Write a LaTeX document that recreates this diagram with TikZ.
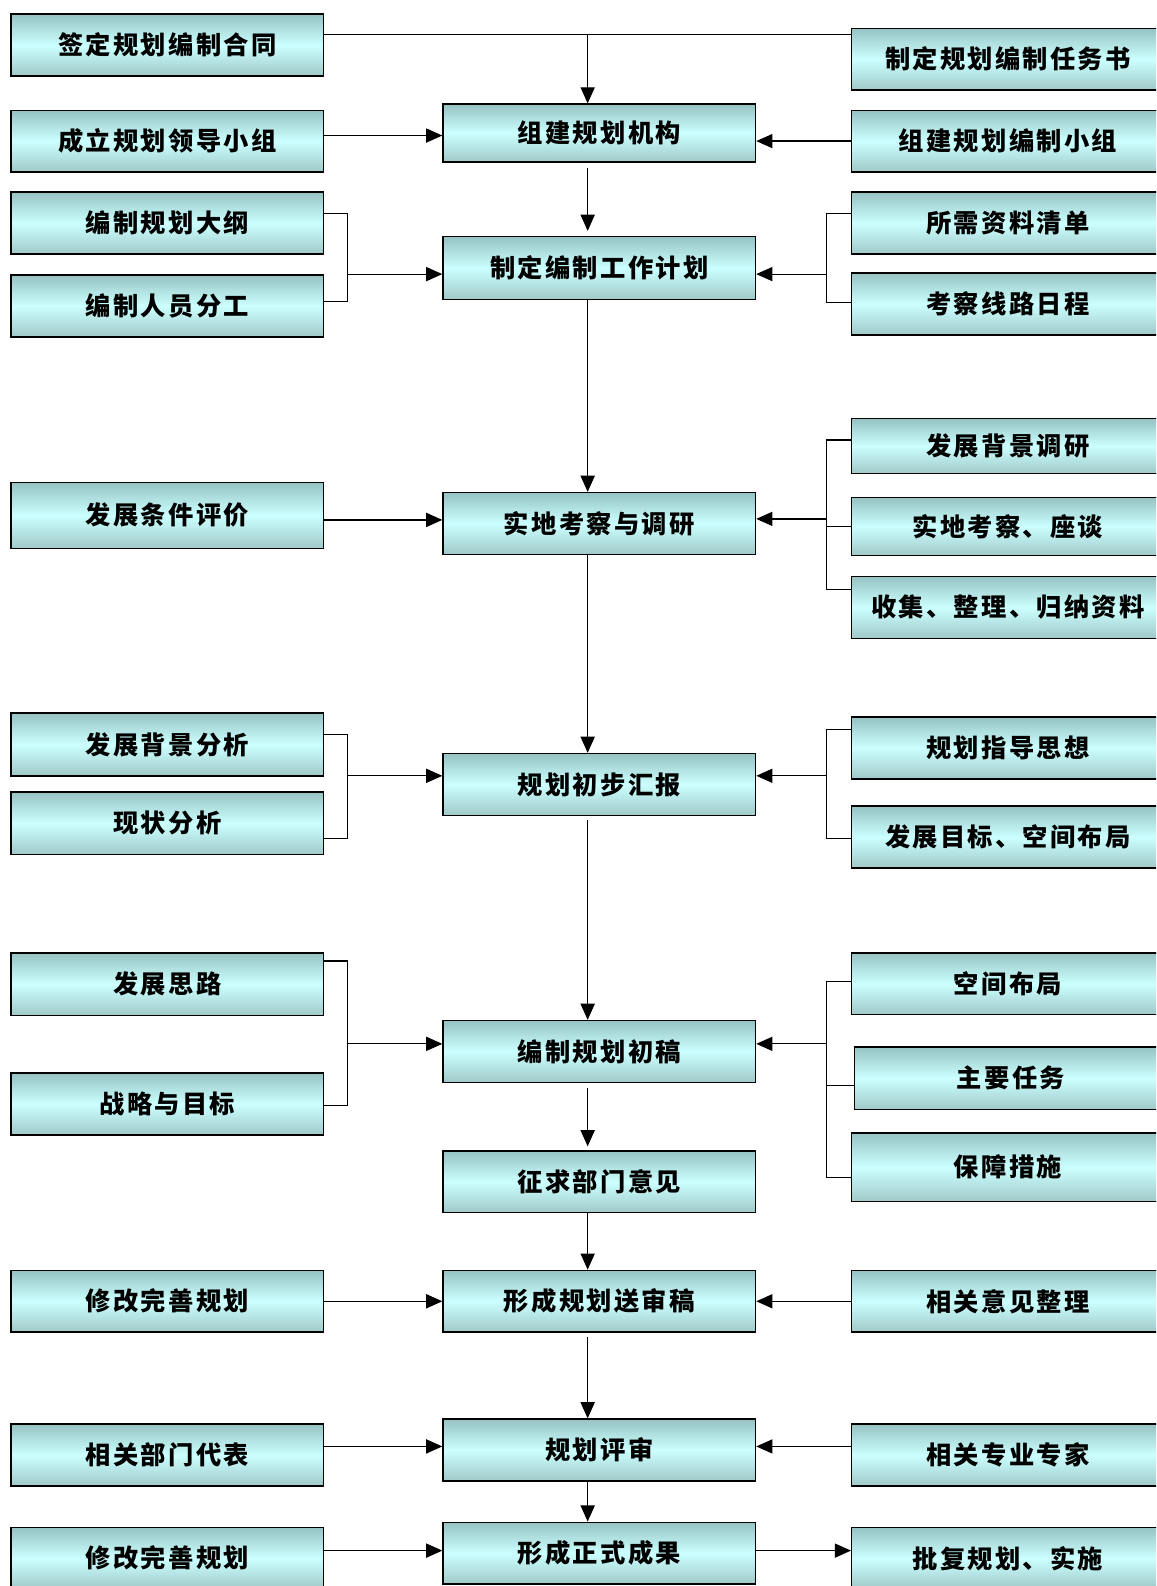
\documentclass[tikz,border=0pt]{standalone}
\usepackage{fontspec}
\newfontfamily\cjk{Noto Sans CJK SC}[LetterSpace=9]
\usetikzlibrary{arrows.meta}
\definecolor{boxedge}{RGB}{150,195,195}
\definecolor{boxmid}{RGB}{204,255,255}
\tikzset{
  box/.style={draw=black,line width=1.4pt,minimum width=309pt,minimum height=61pt,
    inner sep=0pt,top color=boxedge,bottom color=boxedge!90!white,middle color=boxmid,
    font=\cjk\bfseries\fontsize{25}{25}\selectfont},
  link/.style={draw=black,line width=1.2pt},
  arr/.style={link,-{Triangle[length=16pt,width=14pt]}}
}
\begin{document}
\begin{tikzpicture}[x=1pt,y=-1pt]
  \clip (0,0) rectangle (1143,1568);
  \fill[white] (0,0) rectangle (1143,1568);
  % left column
  \node[box] (L1) at (165.5,44.5) {签定规划编制合同};
  \node[box] (L2) at (165.5,139.5) {成立规划领导小组};
  \node[box] (L3) at (165.5,220.5) {编制规划大纲};
  \node[box] (L4) at (165.5,302.5) {编制人员分工};
  \node[box,minimum height=65pt] (L5) at (165.5,509.5) {发展条件评价};
  \node[box,minimum height=62pt] (L6) at (165.5,736) {发展背景分析};
  \node[box,minimum height=62pt] (L7) at (165.5,814) {现状分析};
  \node[box,minimum height=62pt] (L8) at (165.5,973) {发展思路};
  \node[box] (L9) at (165.5,1091.5) {战略与目标};
  \node[box] (L10) at (165.5,1286.5) {修改完善规划};
  \node[box] (L11) at (165.5,1438.5) {相关部门代表};
  \node[box] (L12) at (165.5,1540.5) {修改完善规划};
  % centre column
  \node[box,minimum height=57pt] (C1) at (592.5,131.5) {组建规划机构};
  \node[box,minimum height=62pt] (C2) at (592.5,265) {制定编制工作计划};
  \node[box] (C3) at (592.5,517.5) {实地考察与调研};
  \node[box] (C4) at (592.5,775.5) {规划初步汇报};
  \node[box] (C5) at (592.5,1039.5) {编制规划初稿};
  \node[box] (C6) at (592.5,1168.5) {征求部门意见};
  \node[box] (C7) at (592.5,1286.5) {形成规划送审稿};
  \node[box] (C8) at (592.5,1433.5) {规划评审};
  \node[box] (C9) at (592.5,1535.5) {形成正式成果};
  % right column
  \node[box] (R1) at (996.5,58.5) {制定规划编制任务书};
  \node[box] (R2) at (996.5,139.5) {组建规划编制小组};
  \node[box] (R3) at (996.5,220.5) {所需资料清单};
  \node[box] (R4) at (996.5,300.5) {考察线路日程};
  \node[box,minimum height=54pt] (R5) at (996.5,441) {发展背景调研};
  \node[box,minimum height=57pt] (R6) at (996.5,520.5) {实地考察、座谈};
  \node[box] (R7) at (996.5,600.5) {收集、整理、归纳资料};
  \node[box] (R8) at (996.5,739.5) {规划指导思想};
  \node[box] (R9) at (996.5,827.5) {发展目标、空间布局};
  \node[box] (R10) at (996.5,972.5) {空间布局};
  \node[box,minimum height=62pt] (R11) at (999.5,1066) {主要任务};
  \node[box,minimum height=68pt] (R12) at (996.5,1154) {保障措施};
  \node[box] (R13) at (996.5,1286.5) {相关意见整理};
  \node[box] (R14) at (996.5,1438.5) {相关专业专家};
  \node[box] (R15) at (996.5,1540.5) {批复规划、实施};
  % main line
  \coordinate (t0) at ([yshift=10.5pt]L1.east);
  \coordinate (s1) at ([xshift=-11.5pt]C1.north);
  \draw[link] (t0) -- (t0 -| R1.west);
  \draw[arr] (t0 -| s1) -- (s1);
  \draw[arr,shorten <=5pt,shorten >=5pt] ([xshift=-11.5pt]C1.south) -- ([xshift=-11.5pt]C2.north);
  \draw[arr] ([xshift=-11.5pt]C2.south) -- ([xshift=-11.5pt]C3.north);
  \draw[arr] ([xshift=-11.5pt]C3.south) -- ([xshift=-11.5pt]C4.north);
  \draw[arr,shorten <=4pt] ([xshift=-11.5pt]C4.south) -- ([xshift=-11.5pt]C5.north);
  \draw[arr,shorten <=5pt,shorten >=4pt] ([xshift=-11.5pt]C5.south) -- ([xshift=-11.5pt]C6.north);
  \draw[arr] ([xshift=-11.5pt]C6.south) -- ([xshift=-11.5pt]C7.north);
  \draw[arr,shorten <=4pt] ([xshift=-11.5pt]C7.south) -- ([xshift=-11.5pt]C8.north);
  \draw[arr] ([xshift=-11.5pt]C8.south) -- ([xshift=-11.5pt]C9.north);
  % row 2
  \coordinate (a2) at ([yshift=5.5pt]L2.east);
  \draw[arr] (a2) -- (a2 -| C1.west);
  \draw[arr] (R2.west) -- (R2.west -| C1.east);
  % row 3
  \draw[link] ([yshift=9.5pt]L3.east) -- ++(23,0) |- ([yshift=4.5pt]L4.east);
  \coordinate (jA) at (343,271);
  \draw[arr] (jA) -- (jA -| C2.west);
  \draw[link] ([yshift=9.5pt]R3.west) -- ++(-24,0) |- ([yshift=1.5pt]R4.west);
  \coordinate (jB) at (818,271);
  \draw[arr] (jB) -- (jB -| C2.east);
  % row 4
  \coordinate (a4) at ([yshift=-4.5pt]L5.east);
  \draw[arr] (a4) -- (a4 -| C3.west);
  \draw[link] ([yshift=6pt]R5.west) -- ++(-24,0) |- ([yshift=17.5pt]R7.west);
  \draw[link] (R6.west) -- ++(-24,0);
  \coordinate (jC) at (818,513);
  \draw[arr] (jC) -- (jC -| C3.east);
  % row 5
  \draw[link] ([yshift=10pt]L6.east) -- ++(23,0) |- ([yshift=-15pt]L7.east);
  \coordinate (jD) at (343,767);
  \draw[arr] (jD) -- (jD -| C4.west);
  \draw[link] ([yshift=18.5pt]R8.west) -- ++(-24,0) |- ([yshift=-1.5pt]R9.west);
  \coordinate (jE) at (818,767);
  \draw[arr] (jE) -- (jE -| C4.east);
  % row 6
  \draw[link] ([yshift=23pt]L8.east) -- ++(23,0) |- ([yshift=-1.5pt]L9.east);
  \coordinate (jF) at (343,1032);
  \draw[arr] (jF) -- (jF -| C5.west);
  \draw[link] ([yshift=2.5pt]R10.west) -- ++(-24,0) |- ([yshift=-10pt]R12.west);
  \draw[link] ([yshift=-7pt]R11.west) -- (818,1073);
  \coordinate (jG) at (818,1032);
  \draw[arr] (jG) -- (jG -| C5.east);
  % rows 8 to 10
  \draw[arr] (L10.east) -- (C7.west);
  \draw[arr] (R13.west) -- (C7.east);
  \coordinate (a9) at ([yshift=8.5pt]L11.east);
  \draw[arr] (a9) -- (a9 -| C8.west);
  \coordinate (b9) at ([yshift=8.5pt]R14.west);
  \draw[arr] (b9) -- (b9 -| C8.east);
  \coordinate (a10) at ([yshift=7.5pt]L12.east);
  \draw[arr] (a10) -- (a10 -| C9.west);
  \coordinate (b10) at ([yshift=2.5pt]C9.east);
  \draw[arr] (b10) -- (b10 -| R15.west);
\end{tikzpicture}
\end{document}
